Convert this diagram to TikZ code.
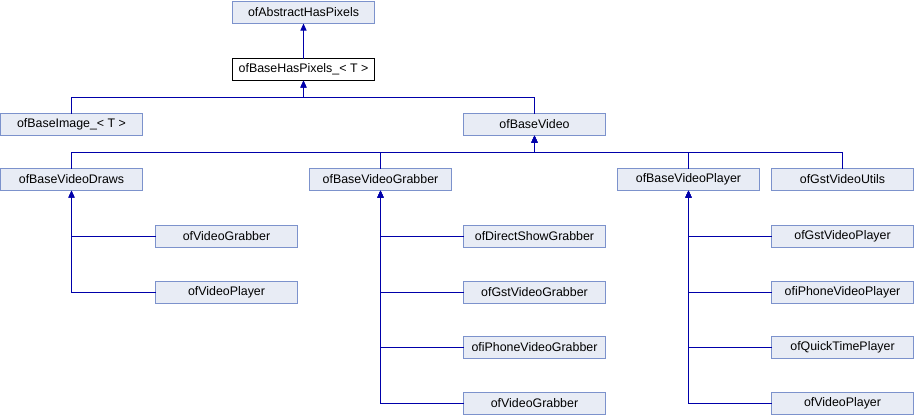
\documentclass[tikz,border=0pt]{standalone}
\usepackage{fontspec}
\setmainfont{Liberation Sans}
\usepackage{tikz}
\usetikzlibrary{arrows.meta}
\definecolor{doxfill}{RGB}{232,236,245}
\definecolor{doxline}{RGB}{124,146,204}
\definecolor{doxedge}{RGB}{0,0,170}

\begin{document}
\begin{tikzpicture}[x=1pt,y=-1pt,font=\fontsize{12.4}{14}\selectfont,
  cls/.style={draw=doxline,fill=doxfill,line width=1pt,minimum width=142pt,minimum height=22pt,inner sep=0pt,outer sep=0pt},
  topcls/.style={cls,draw=black,fill=white},
  inh/.style={draw=doxedge,line width=1pt,-{Triangle[length=7pt,width=6pt,fill=doxedge]}}]
\useasboundingbox (0,0) rectangle (914,416);
% columns and rows
\def\ca{71.5} \def\cb{226.5} \def\cc{380.5} \def\cd{534.5} \def\ce{688.5} \def\cf{842.5} \def\ct{303.5}
\def\ra{12.5} \def\rb{69.5} \def\rc{124.5} \def\rd{179.5} \def\re{236.5} \def\rf{292.5} \def\rg{347.5} \def\rh{403.5}
% top of the tree
\node[cls] (ahp) at (\ct,\ra) {ofAbstractHasPixels};
\node[topcls] (bhp) at (\ct,\rb) {ofBaseHasPixels\_< T >};
\node[cls] (bimg) at (\ca,\rc) {ofBaseImage\_< T >};
\node[cls] (bvid) at (\cd,\rc) {ofBaseVideo};
% base video classes
\node[cls] (draws) at (\ca,\rd) {ofBaseVideoDraws};
\node[cls] (grab) at (\cc,\rd) {ofBaseVideoGrabber};
\node[cls] (play) at (\ce,\rd) {ofBaseVideoPlayer};
\node[cls] (gstu) at (\cf,\rd) {ofGstVideoUtils};
% leaves
\node[cls] (dgrab) at (\cb,\re) {ofVideoGrabber};
\node[cls] (dplay) at (\cb,\rf) {ofVideoPlayer};
\node[cls] (gds) at (\cd,\re) {ofDirectShowGrabber};
\node[cls] (ggst) at (\cd,\rf) {ofGstVideoGrabber};
\node[cls] (gios) at (\cd,\rg) {ofiPhoneVideoGrabber};
\node[cls] (gvg) at (\cd,\rh) {ofVideoGrabber};
\node[cls] (pgst) at (\cf,\re) {ofGstVideoPlayer};
\node[cls] (pios) at (\cf,\rf) {ofiPhoneVideoPlayer};
\node[cls] (pqt) at (\cf,\rg) {ofQuickTimePlayer};
\node[cls] (pvp) at (\cf,\rh) {ofVideoPlayer};
% inheritance
\draw[inh] (bhp) -- (ahp);
\foreach \c in {bimg,bvid} \draw[inh] (\c.north) -- ++(0,-16) -| (bhp.south);
\foreach \c in {draws,grab,play,gstu} \draw[inh] (\c.north) -- ++(0,-16) -| (bvid.south);
\foreach \c in {dgrab,dplay} \draw[inh] (\c.west) -| (draws.south);
\foreach \c in {gds,ggst,gios,gvg} \draw[inh] (\c.west) -| (grab.south);
\foreach \c in {pgst,pios,pqt,pvp} \draw[inh] (\c.west) -| (play.south);
\end{tikzpicture}
\end{document}
